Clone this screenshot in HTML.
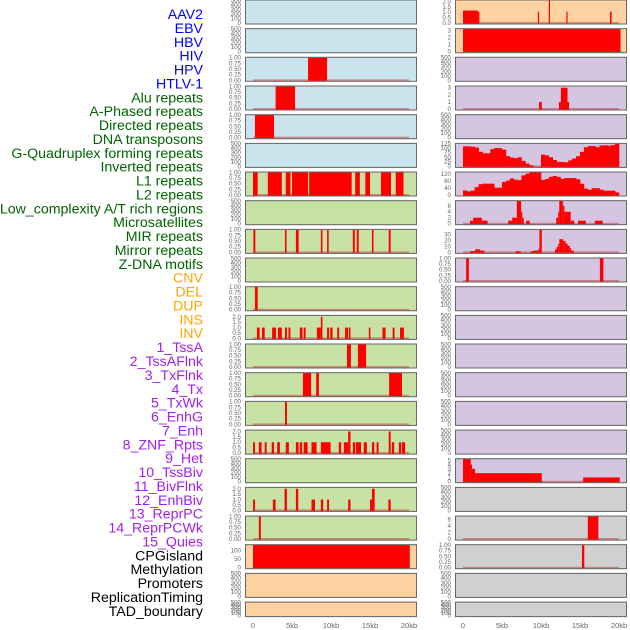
<!DOCTYPE html>
<html><head><meta charset="utf-8">
<style>
html,body{margin:0;padding:0;background:#fff;width:630px;height:630px;overflow:hidden}
svg{display:block;font-family:"Liberation Sans",sans-serif}
</style></head>
<body>
<svg id="chart" width="630" height="630" viewBox="0 0 630 630" xmlns="http://www.w3.org/2000/svg">
<g id="labels"></g>
<g id="panels"></g>
<g id="xaxes"></g>
</svg>
<script>
// ---- data ----
const trackLabels = ["AAV2","EBV","HBV","HIV","HPV","HTLV-1","Alu repeats","A-Phased repeats","Directed repeats","DNA transposons","G-Quadruplex forming repeats","Inverted repeats","L1 repeats","L2 repeats","Low_complexity A/T rich regions","Microsatellites","MIR repeats","Mirror repeats","Z-DNA motifs","CNV","DEL","DUP","INS","INV","1_TssA","2_TssAFlnk","3_TxFlnk","4_Tx","5_TxWk","6_EnhG","7_Enh","8_ZNF_Rpts","9_Het","10_TssBiv","11_BivFlnk","12_EnhBiv","13_ReprPC","14_ReprPCWk","15_Quies","CPGisland","Methylation","Promoters","ReplicationTiming","TAD_boundary"];
const labelGroups = ["v","v","v","v","v","v","r","r","r","r","r","r","r","r","r","r","r","r","r","c","c","c","c","c","s","s","s","s","s","s","s","s","s","s","s","s","s","s","s","o","o","o","o","o"];
const xTickLabels = ["0","5kb","10kb","15kb","20kb"];
const xTickValues = [0,5,10,15,20];

const tickEmptyVals = [0,100,200,300,400,500];
const tickProbVals = [0,0.25,0.5,0.75,1];
const tickProbLabels = ["0.00","0.25","0.50","0.75","1.00"];
const tick2Vals = [0,0.5,1,1.5,2];
const tick2Labels = ["0.0","0.5","1.0","1.5","2.0"];

// segments: [startKb, endKb, value]
const segsHIV = [[7.05,9.5,1]];
const segsHPV = [[2.9,5.4,1]];
const segsHTLV = [[0.25,2.7,1]];
const segsAlu = [[0,0.6,1],[1.9,3.7,1],[4.2,4.8,1],[5.0,7.05,1],[7.2,12.65,1],[13.1,13.7,1],[14.4,15.0,1],[16.4,17.7,1],[18.3,19.3,1]];
const segsDirected = [[0.05,0.3,1],[4.1,4.3,1],[5.5,5.85,1],[8.7,8.9,1],[9.5,9.7,1],[12.8,13.05,1],[13.3,13.55,1],[15.25,15.45,1],[17.4,17.65,1]];
const segsGQuad = [[0.25,0.6,1]];
const segsInverted = [[0.5,0.85,1],[1.15,1.5,1],[2.45,2.95,1],[3.2,3.7,1],[4.1,4.35,1],[4.55,4.8,1],[6.0,6.35,1],[6.5,6.75,1],[8.2,8.7,1],[8.7,8.9,2],[9.5,9.75,1],[9.9,10.2,1],[10.8,11.05,1],[11.8,12.2,1],[12.3,12.5,1],[14.85,15.05,1],[16.6,17.0,1],[17.9,18.15,1],[18.85,19.35,1]];
const segsL1 = [[12.05,12.55,1],[13.45,14.5,1]];
const segsL2 = [[6.4,7.45,1],[8.1,8.45,1],[17.45,19.1,1]];
const segsLowComp = [[4.1,4.35,1]];
const segsMicrosat = [[0,0.25,1],[0.75,1.1,1],[1.5,1.75,1],[2.4,2.7,1],[3.1,3.45,1],[4.2,4.6,1],[5.5,5.85,1],[6.0,6.3,1],[6.5,7.0,1],[7.5,8.15,1],[8.7,9.95,1],[11.0,11.3,1],[11.65,12.2,1],[12.2,12.5,2],[12.8,13.1,1],[13.2,13.85,1],[14.2,14.6,1],[15.25,15.55,1],[15.85,16.1,1],[17.4,17.65,2],[17.8,18.1,1],[18.7,19.0,1],[19.1,19.5,1]];
const segsMirror = [[0,0.25,1],[2.55,2.9,1],[4.05,4.35,2],[5.5,5.8,2],[7.5,7.95,1],[8.7,9.0,1],[9.5,9.75,1],[12.2,12.5,1],[15.0,15.3,1],[15.25,15.6,2],[17.35,17.65,1]];
const segsZDNA = [[0.75,1.0,1]];
const segsCNV = [[0,20.1,130]];
const segsINS = [[0,1.9,1.15],[1.9,2.1,1.05],[9.6,9.75,1.05],[11.0,11.15,2.1],[13.25,13.4,1.05],[18.85,19.05,1.05]];
const segsINV = [[0,20.2,3.2]];
const segsTssAFlnk = [[9.75,10.1,1],[12.3,12.55,1],[12.55,13.4,3],[13.4,13.6,1]];
const binsTxFlnk = [110,110,108,104,80,72,72,95,101,100,92,56,48,45,50,30,15,6,0,0,65,60,50,35,25,24,22,33,43,56,80,105,112,112,105,115,116,114,118,123];
const binsTx = [26,21,25,45,62,65,65,65,42,42,75,82,95,88,85,112,122,129,129,129,86,92,104,109,104,92,97,97,97,90,65,37,30,39,39,30,25,25,25,15];
const segsTxWk = [[0.9,1.3,1],[1.3,2.4,2],[2.4,3.15,1],[5.8,6.3,1],[6.3,6.9,2],[6.9,7.45,7.6],[7.45,7.6,4],[7.6,7.8,2],[8.1,8.55,1],[11.95,12.2,2],[12.2,12.35,4],[12.35,12.8,7.6],[12.8,13.0,6],[13.0,13.8,4],[13.8,14.25,1],[14.75,15.75,1],[16.9,17.9,1]];
const segsEnhG = [[0.9,1.55,2],[1.55,2.2,5],[2.2,2.75,3],[6.75,7.4,2],[8.7,9.05,2],[9.05,9.65,3],[9.65,9.8,5],[9.8,10.1,38],[11.8,12.0,5],[12.0,12.2,9],[12.2,12.35,14],[12.35,12.85,22],[12.85,13.15,19],[13.15,13.4,15],[13.4,13.7,11],[13.7,13.85,7],[13.85,14.2,3]];
const segsEnh = [[0.4,0.75,1],[17.55,18.0,1]];
const segsQuies = [[0,1.0,5.3],[1.0,1.15,4],[1.15,1.55,3],[1.55,10.1,2],[15.4,20.1,1]];
const segsMethyl = [[16.0,17.35,7]];
const segsPromoters = [[15.25,15.55,1]];

// ---- layout ----
const colors = {v:"#0000ff", r:"#006400", c:"#ffa500", s:"#a020f0", o:"#000000"};
const bgs = {blue:"#c9e4ec", green:"#c8e1a5", orange:"#fdd1a0", purple:"#d5c5e1", grey:"#d0d0d0"};
const cols = [{x0:245,x1:417,z:253},{x0:455,x1:627,z:463}];
const pxPerKb = 7.8;
const NS = "http://www.w3.org/2000/svg";

const E = {vals:tickEmptyVals, labels:tickEmptyVals.map(String), ymax:500};
const P = {vals:tickProbVals, labels:tickProbLabels, ymax:1.0};
const T2 = {vals:tick2Vals, labels:tick2Labels, ymax:2.1};
function tk(vals, ymax){return {vals:vals, labels:vals.map(String), ymax:ymax};}

const panels = [
 {bg:"blue",t:E},{bg:"blue",t:E},{bg:"blue",t:P,segs:segsHIV},{bg:"blue",t:P,segs:segsHPV},{bg:"blue",t:P,segs:segsHTLV},{bg:"blue",t:E},
 {bg:"green",t:P,segs:segsAlu},{bg:"green",t:E},{bg:"green",t:P,segs:segsDirected},{bg:"green",t:E},{bg:"green",t:P,segs:segsGQuad},
 {bg:"green",t:T2,segs:segsInverted},{bg:"green",t:P,segs:segsL1},{bg:"green",t:P,segs:segsL2},{bg:"green",t:P,segs:segsLowComp},
 {bg:"green",t:T2,segs:segsMicrosat},{bg:"green",t:E},{bg:"green",t:T2,segs:segsMirror},{bg:"green",t:P,segs:segsZDNA},
 {bg:"orange",t:tk([0,50,100],130),segs:segsCNV,nobase:true},{bg:"orange",t:E},{bg:"orange",t:E},
 {bg:"orange",t:T2,segs:segsINS},{bg:"orange",t:tk([0,1,2,3],3.2),segs:segsINV,nobase:true},
 {bg:"purple",t:E},{bg:"purple",t:tk([0,1,2,3],3.2),segs:segsTssAFlnk},{bg:"purple",t:E},
 {bg:"purple",t:tk([0,25,50,75,100,125],125),bins:binsTxFlnk},{bg:"purple",t:tk([0,40,80,120],130),bins:binsTx},
 {bg:"purple",t:tk([0,2,4,6],7.6),segs:segsTxWk},{bg:"purple",t:tk([0,10,20,30],38),segs:segsEnhG},{bg:"purple",t:P,segs:segsEnh},
 {bg:"purple",t:E},{bg:"purple",t:E},{bg:"purple",t:E},{bg:"purple",t:E},{bg:"purple",t:E},{bg:"purple",t:E},
 {bg:"purple",t:tk([0,1,2,3,4,5],5.3),segs:segsQuies},
 {bg:"grey",t:E},{bg:"grey",t:tk([0,2,4,6],7),segs:segsMethyl},{bg:"grey",t:P,segs:segsPromoters},{bg:"grey",t:E},{bg:"grey",t:E}
];

const svg = document.getElementById("chart");
const gLab = document.getElementById("labels");
const gPan = document.getElementById("panels");
const gX = document.getElementById("xaxes");

function mk(tag, attrs, parent){
  const el = document.createElementNS(NS, tag);
  for (const k in attrs) el.setAttribute(k, attrs[k]);
  parent.appendChild(el);
  return el;
}

// labels
trackLabels.forEach((name, i) => {
  const t = mk("text", {x:203, y:(19 + i*13.88).toFixed(1), "text-anchor":"end", "font-size":"14.2", fill:colors[labelGroups[i]]}, gLab);
  t.textContent = name;
  
  
});

// panels
panels.forEach((p, idx) => {
  const c = cols[idx < 22 ? 0 : 1];
  const row = idx % 22;
  const top = 28.67*row - 0.5;
  const h = row === 21 ? 15.5 : 25;
  const bottom = top + h;
  const g = mk("g", {}, gPan);
  
  
  const bgRect = mk("rect", {x:c.x0, y:top.toFixed(1), width:c.x1-c.x0, height:h, fill:bgs[p.bg]}, g);
  
  
  const ymax = p.t.ymax;
  const y0 = bottom - 1.5, yTop = top + 0.8;
  const ys = v => y0 - (v/ymax)*(y0 - yTop);
  const xs = kb => c.z + kb*pxPerKb;
  // ticks
  p.t.vals.forEach((v, j) => {
    const tl = mk("text", {x:c.x0-4, y:(ys(v)+2).toFixed(1), "text-anchor":"end", "font-size":"6.2", fill:"#666"}, g);
    tl.textContent = p.t.labels[j];
    
    
  });
  const hasData = p.segs || p.bins;
  if (hasData && !p.nobase) {
    const bl = mk("line", {x1:xs(0), x2:xs(20), y1:y0, y2:y0, stroke:"rgba(200,40,40,0.45)", "stroke-width":2}, g);
    
    
  }
  if (p.segs) {
    p.segs.forEach(s => {
      const yt = Math.max(top, ys(s[2]));
      const r = mk("rect", {x:xs(s[0]).toFixed(2), y:yt.toFixed(2), width:Math.max(1.2, xs(s[1])-xs(s[0])).toFixed(2), height:(y0+0.5-yt).toFixed(2), fill:"#ff0000"}, g);
      
      
    });
  }
  if (p.bins) {
    p.bins.forEach((v, j) => {
      if (v <= 0) return;
      const yt = Math.max(top, ys(v));
      const r = mk("rect", {x:xs(j*0.5).toFixed(2), y:yt.toFixed(2), width:(0.5*pxPerKb+0.3).toFixed(2), height:(y0+0.5-yt).toFixed(2), fill:"#ff0000"}, g);
      
      
    });
  }
  const border = mk("rect", {x:c.x0+0.5, y:(top+0.5).toFixed(1), width:c.x1-c.x0-1, height:h-1, fill:"none", stroke:"#666", "stroke-width":1}, g);
  
  
});

// x axes
cols.forEach((c, ci) => {
  xTickValues.forEach((v, j) => {
    const t = mk("text", {x:(c.z + v*pxPerKb).toFixed(1), y:628, "text-anchor":"middle", "font-size":"7.5", fill:"#666"}, gX);
    t.textContent = xTickLabels[j];
    
    
  });
});
</script>
</body></html>
